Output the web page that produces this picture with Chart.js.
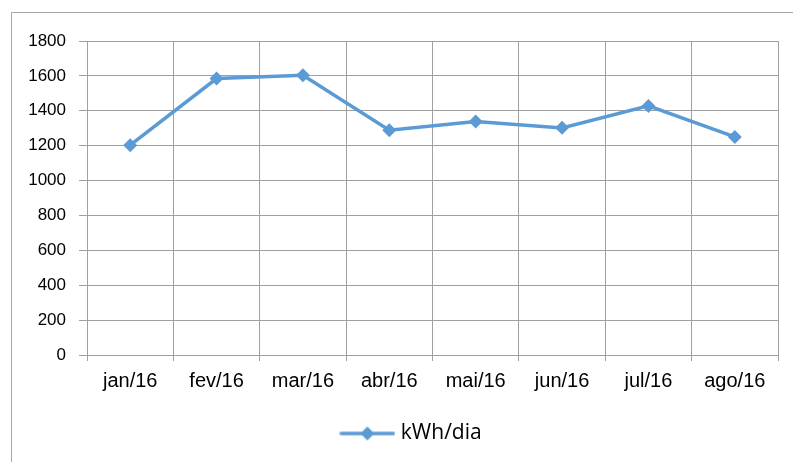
<!DOCTYPE html>
<html lang="pt">
<head>
  <meta charset="UTF-8" />
  <title>kWh/dia</title>
  <script src="https://cdn.jsdelivr.net/npm/chart.js"></script>
  <style>
    html, body { margin: 0; padding: 0; background: #fff; }
    #wrap { width: 794px; height: 462px; }
  </style>
</head>
<body>
  <div id="wrap"><canvas id="chart" width="794" height="462"></canvas></div>
  <script>
    const months = ['jan/16', 'fev/16', 'mar/16', 'abr/16', 'mai/16', 'jun/16', 'jul/16', 'ago/16'];
    const kwhPerDay = [1203, 1585, 1603, 1288, 1338, 1302, 1428, 1250];
    const yTicks = [0, 200, 400, 600, 800, 1000, 1200, 1400, 1600, 1800];

    const blue = '#5b9bd5';
    const gridGray = '#a0a0a0';

    // legend symbol: short line with a diamond in the middle, like Excel
    const legendIcon = document.createElement('canvas');
    legendIcon.width = 56; legendIcon.height = 16;
    (function () {
      const c = legendIcon.getContext('2d');
      c.strokeStyle = blue; c.lineWidth = 3.5; c.lineCap = 'round';
      c.beginPath(); c.moveTo(2, 8); c.lineTo(54, 8); c.stroke();
      c.fillStyle = blue;
      c.beginPath(); c.moveTo(28, 1); c.lineTo(35, 8); c.lineTo(28, 15); c.lineTo(21, 8); c.closePath(); c.fill();
    })();

    const frame = {
      id: 'frame',
      afterLayout(chart) {
        // the legend sits a bit right of the canvas centre in the original
        chart.legend.left += 48;
      },
      afterDraw(chart) {
        const c = chart.ctx;
        c.save();
        c.strokeStyle = '#a6a6a6'; c.lineWidth = 1;
        c.beginPath();
        c.moveTo(793, 12.5); c.lineTo(11.5, 12.5); c.lineTo(11.5, 462);
        c.stroke();
        c.restore();
      }
    };

    new Chart(document.getElementById('chart'), {
      type: 'line',
      data: {
        labels: months,
        datasets: [{
          label: 'kWh/dia',
          data: kwhPerDay,
          borderColor: blue,
          backgroundColor: blue,
          borderWidth: 3.5,
          tension: 0,
          pointStyle: 'rectRot',
          pointRadius: 7,
          pointHoverRadius: 7,
          pointBorderWidth: 0
        }]
      },
      options: {
        responsive: false,
        animation: false,
        layout: { padding: { top: 41, right: 16, left: 0, bottom: 8 } },
        plugins: {
          tooltip: { enabled: false },
          legend: {
            position: 'bottom',
            labels: {
              usePointStyle: true,
              pointStyleWidth: 46,
              padding: 14,
              color: '#000',
              font: { family: 'Open Sans', size: 21 },
              generateLabels: () => [{
                text: 'kWh/dia',
                pointStyle: legendIcon,
                fillStyle: blue,
                strokeStyle: blue,
                lineWidth: 0,
                datasetIndex: 0
              }]
            }
          }
        },
        scales: {
          x: {
            offset: true,
            grid: { offset: true, color: gridGray, lineWidth: 1, tickLength: 6 },
            border: { color: gridGray, width: 1 },
            ticks: { color: '#000', font: { family: 'Liberation Sans', size: 20 }, padding: 8, maxRotation: 0 },
            afterFit: s => { s.height = 54; }
          },
          y: {
            min: 0,
            max: 1800,
            afterBuildTicks: s => { s.ticks = yTicks.map(v => ({ value: v })); },
            grid: { color: gridGray, lineWidth: 1, tickLength: 8 },
            border: { color: gridGray, width: 1 },
            ticks: {
              color: '#000',
              font: { family: 'Liberation Sans', size: 17 },
              padding: 13,
              callback: v => String(v)
            },
            afterFit: s => { s.width = 87; }
          }
        }
      },
      plugins: [frame]
    });
  </script>
</body>
</html>
